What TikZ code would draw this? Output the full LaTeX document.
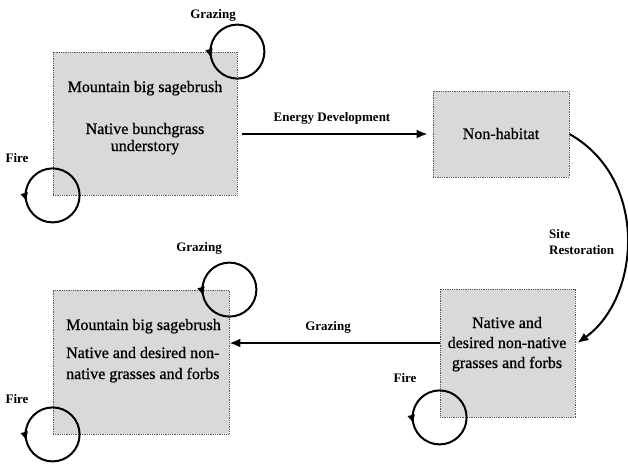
\documentclass[tikz,border=0pt]{standalone}
\usepackage{fontspec}
\setmainfont{Liberation Serif}
\usetikzlibrary{arrows.meta,calc}
\tikzset{
  statebox/.style={draw=black!65, densely dotted, line width=0.8pt, fill=black!15, inner sep=0pt},
  boxtext/.style={font=\fontsize{16}{19}\selectfont\addfontfeature{FakeBold=0.8}, inner sep=0pt, anchor=base},
  boxtextl/.style={boxtext, anchor=base west},
  lbl/.style={font=\fontsize{13}{15}\selectfont\bfseries, inner sep=0pt, anchor=base},
  lbll/.style={lbl, anchor=base west},
  arr/.style={line width=2pt, -{Latex[length=11pt,width=9pt]}},
  loopline/.style={line width=2pt},
  looparr/.style={line width=2pt, -{Latex[length=9pt,width=8pt]}}
}
\newcommand{\selfloop}[2]{%
  \draw[loopline] (#2) circle[radius=27];
  \draw[looparr] (#2) ++(190:27) arc[start angle=190, end angle=166, radius=27];
}
\begin{document}
\begin{tikzpicture}[x=1pt,y=-1pt]
\path[use as bounding box, fill=white] (0,0) rectangle (628,469);

% boxes
\node[statebox, minimum width=184, minimum height=143] (b1) at (145,123.5) {};
\node[statebox, minimum width=136, minimum height=86] (b2) at (501,134) {};
\node[statebox, minimum width=135, minimum height=128] (b3) at (507.5,353) {};
\node[statebox, minimum width=176, minimum height=144] (b4) at (141,362) {};

% box texts
\node[boxtext] (b1a) at (145,92) {Mountain big sagebrush};
\node[boxtext] (b1b) at (145,134) {Native bunchgrass};
\node[boxtext] (b1c) at (145,151) {understory};
\node[boxtext] (b2a) at (501,139) {Non-habitat};
\node[boxtext] (b3a) at (507,328) {Native and};
\node[boxtext] (b3b) at (507,348) {desired non-native};
\node[boxtext] (b3c) at (507,368) {grasses and forbs};
\node[boxtextl] (b4a) at (66,330) {Mountain big sagebrush};
\node[boxtextl] (b4b) at (66,358) {Native and desired non-};
\node[boxtextl] (b4c) at (66,379) {native grasses and forbs};

% loop centres
\coordinate (c1) at (b1.north east);
\coordinate (c2) at (b1.south west);
\coordinate (c3) at (b4.north east);
\coordinate (c4) at (b4.south west);
\coordinate (c5) at (b3.south west);
\selfloop{g1}{c1}
\selfloop{f1}{c2}
\selfloop{g2}{c3}
\selfloop{f2}{c4}
\selfloop{f3}{c5}

% loop labels
\node[lbl] (lg1) at (213,18) {Grazing};
\node[lbl] (lf1) at (17,162) {Fire};
\node[lbl] (lg2) at (199,251) {Grazing};
\node[lbl] (lf2) at (17,403) {Fire};
\node[lbl] (lf3) at (405,382) {Fire};

% transitions
\draw[arr] ([xshift=5pt]b2.west -| b1.east) -- ([xshift=-5pt]b2.west);
\node[lbl] (le) at (332,121) {Energy Development};

\coordinate (gs) at ($(b3.west)+(0,-10)$);
\draw[arr] (gs) -- (gs -| b4.east);
\node[lbl] (lg3) at (328,330) {Grazing};

\coordinate (re) at ($(b3.east)+(2,-10)$);
\draw[arr] (b2.east) .. controls +(80,45) and +(63,-45) .. (re);
\node[lbll] (ls1) at (549,238) {Site};
\node[lbll] (ls2) at (549,254) {Restoration};
\end{tikzpicture}
\end{document}
